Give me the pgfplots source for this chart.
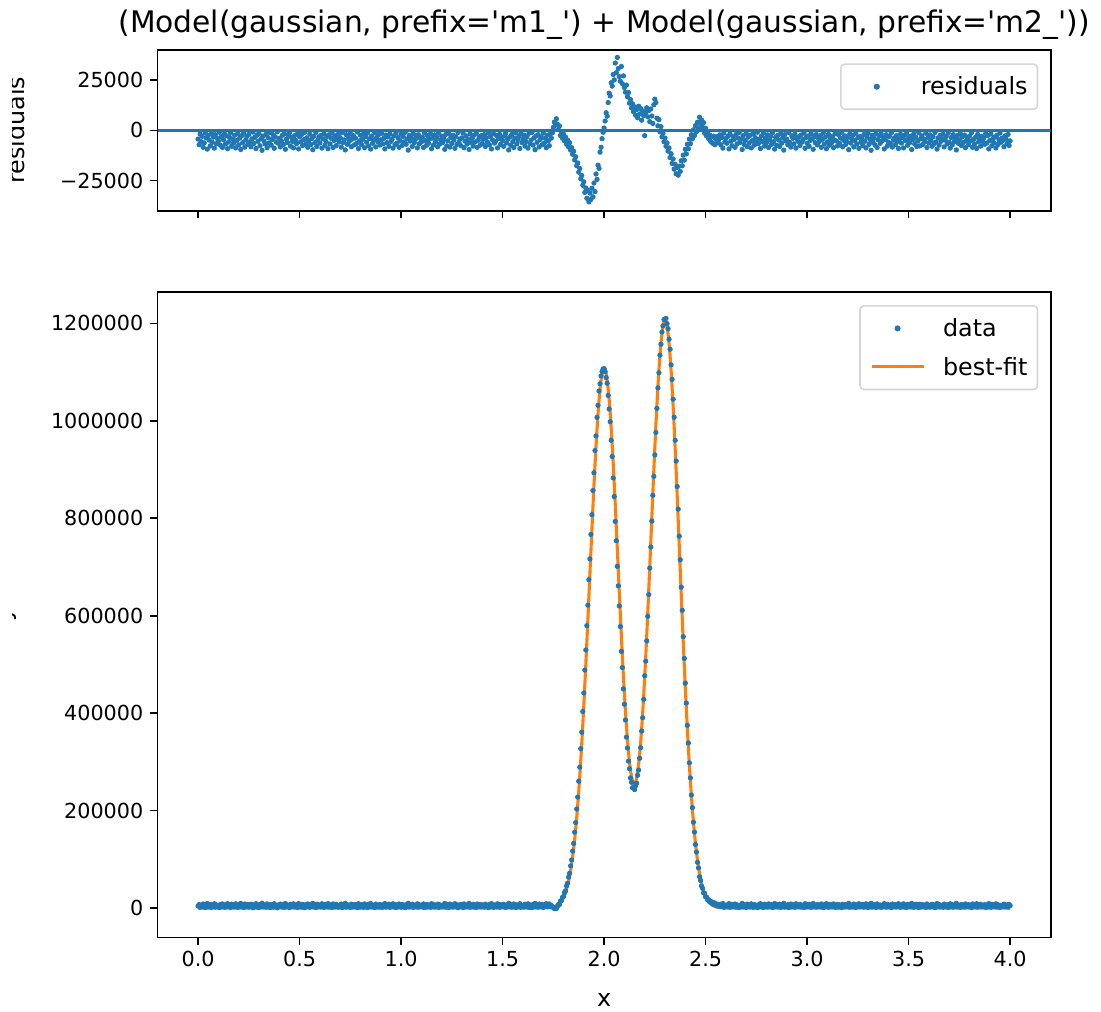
\documentclass[border=0pt]{standalone}
\usepackage{fontspec}
\setmainfont{DejaVu Sans}
\usepackage{pgfplots}
\pgfplotsset{compat=1.18}
\usepackage{pgfplotstable}
\definecolor{C0}{HTML}{1F77B4}
\definecolor{C1}{HTML}{FF7F0E}
\newcommand{\tickfont}{\fontsize{10.35}{12}\selectfont}
\newcommand{\labfont}{\fontsize{11.9}{14}\selectfont}
\newcommand{\titfont}{\fontsize{14.85}{18}\selectfont}

\pgfplotstableread{
x y r f
0.000 4300 -4300 0
0.005 7100 -7100 0
0.010 1800 -1800 0
0.015 5600 -5600 0
0.020 2900 -2900 0
0.025 8400 -8400 0
0.030 6200 -6200 0
0.035 1100 -1100 0
0.040 3700 -3700 0
0.045 9300 -9300 0
0.050 2500 -2500 0
0.055 4800 -4800 0
0.060 7700 -7700 0
0.065 1400 -1400 0
0.070 5900 -5900 0
0.075 3300 -3300 0
0.080 8800 -8800 0
0.085 2100 -2100 0
0.090 6600 -6600 0
0.095 4000 -4000 0
0.100 5200 -5200 0
0.105 900 -900 0
0.110 7400 -7400 0
0.115 3100 -3100 0
0.120 8500 -8500 0
0.125 4600 -4600 0
0.130 1700 -1700 0
0.135 6800 -6800 0
0.140 2700 -2700 0
0.145 9100 -9100 0
0.150 5800 -5800 0
0.155 3500 -3500 0
0.160 1200 -1200 0
0.165 7900 -7900 0
0.170 4400 -4400 0
0.175 6300 -6300 0
0.180 2400 -2400 0
0.185 8700 -8700 0
0.190 5000 -5000 0
0.195 1600 -1600 0
0.200 7200 -7200 0
0.205 3800 -3800 0
0.210 9500 -9500 0
0.215 2600 -2600 0
0.220 6100 -6100 0
0.225 1300 -1300 0
0.230 8300 -8300 0
0.235 4700 -4700 0
0.240 3000 -3000 0
0.245 6900 -6900 0
0.250 2000 -2000 0
0.255 5700 -5700 0
0.260 8100 -8100 0
0.265 4200 -4200 0
0.270 800 -800 0
0.275 6500 -6500 0
0.280 3400 -3400 0
0.285 9000 -9000 0
0.290 2300 -2300 0
0.295 5400 -5400 0
0.300 1500 -1500 0
0.305 7600 -7600 0
0.310 4100 -4100 0
0.315 9900 -9900 0
0.320 2800 -2800 0
0.325 5300 -5300 0
0.330 6700 -6700 0
0.335 1900 -1900 0
0.340 8600 -8600 0
0.345 3600 -3600 0
0.350 6200 -6200 0
0.355 1000 -1000 0
0.360 7300 -7300 0
0.365 4500 -4500 0
0.370 2200 -2200 0
0.375 8900 -8900 0
0.380 3200 -3200 0
0.385 5800 -5800 0
0.390 700 -700 0
0.395 6400 -6400 0
0.400 3900 -3900 0
0.405 8200 -8200 0
0.410 5100 -5100 0
0.415 2400 -2400 0
0.420 7000 -7000 0
0.425 1700 -1700 0
0.430 9400 -9400 0
0.435 4300 -4300 0
0.440 6000 -6000 0
0.445 2800 -2800 0
0.450 1200 -1200 0
0.455 7800 -7800 0
0.460 3500 -3500 0
0.465 5500 -5500 0
0.470 8700 -8700 0
0.475 2600 -2600 0
0.480 4900 -4900 0
0.485 6600 -6600 0
0.490 1400 -1400 0
0.495 9200 -9200 0
0.500 3100 -3100 0
0.505 5700 -5700 0
0.510 2000 -2000 0
0.515 7500 -7500 0
0.520 4600 -4600 0
0.525 900 -900 0
0.530 6800 -6800 0
0.535 3700 -3700 0
0.540 8400 -8400 0
0.545 5300 -5300 0
0.550 1800 -1800 0
0.555 7100 -7100 0
0.560 4000 -4000 0
0.565 9600 -9600 0
0.570 2900 -2900 0
0.575 6100 -6100 0
0.580 1100 -1100 0
0.585 8000 -8000 0
0.590 4800 -4800 0
0.595 3300 -3300 0
0.600 6300 -6300 0
0.605 2500 -2500 0
0.610 8800 -8800 0
0.615 4200 -4200 0
0.620 1600 -1600 0
0.625 7400 -7400 0
0.630 5500 -5500 0
0.635 3000 -3000 0
0.640 9100 -9100 0
0.645 2200 -2200 0
0.650 6700 -6700 0
0.655 3900 -3900 0
0.660 1300 -1300 0
0.665 8500 -8500 0
0.670 5000 -5000 0
0.675 2700 -2700 0
0.680 7600 -7600 0
0.685 4400 -4400 0
0.690 1900 -1900 0
0.695 5800 -5800 0
0.700 3600 -3600 0
0.705 8300 -8300 0
0.710 1000 -1000 0
0.715 6000 -6000 0
0.720 4700 -4700 0
0.725 9700 -9700 0
0.730 2100 -2100 0
0.735 6900 -6900 0
0.740 3400 -3400 0
0.745 5400 -5400 0
0.750 1500 -1500 0
0.755 8100 -8100 0
0.760 4300 -4300 0
0.765 2600 -2600 0
0.770 7200 -7200 0
0.775 3800 -3800 0
0.780 6500 -6500 0
0.785 800 -800 0
0.790 9000 -9000 0
0.795 5200 -5200 0
0.800 2400 -2400 0
0.805 7000 -7000 0
0.810 4500 -4500 0
0.815 1700 -1700 0
0.820 8600 -8600 0
0.825 3100 -3100 0
0.830 5900 -5900 0
0.835 1300 -1300 0
0.840 7700 -7700 0
0.845 4100 -4100 0
0.850 9300 -9300 0
0.855 2800 -2800 0
0.860 6400 -6400 0
0.865 4900 -4900 0
0.870 1100 -1100 0
0.875 8200 -8200 0
0.880 3500 -3500 0
0.885 5600 -5600 0
0.890 2000 -2000 0
0.895 7300 -7300 0
0.900 4700 -4700 0
0.905 1400 -1400 0
0.910 6700 -6700 0
0.915 3900 -3900 0
0.920 9200 -9200 0
0.925 2300 -2300 0
0.930 6100 -6100 0
0.935 3200 -3200 0
0.940 7900 -7900 0
0.945 1800 -1800 0
0.950 5500 -5500 0
0.955 4400 -4400 0
0.960 8800 -8800 0
0.965 2700 -2700 0
0.970 7100 -7100 0
0.975 1200 -1200 0
0.980 6300 -6300 0
0.985 3600 -3600 0
0.990 8400 -8400 0
0.995 5100 -5100 0
1.000 1900 -1900 0
1.005 7500 -7500 0
1.010 3000 -3000 0
1.015 5700 -5700 0
1.020 900 -900 0
1.025 6900 -6900 0
1.030 4200 -4200 0
1.035 9800 -9800 0
1.040 2500 -2500 0
1.045 5300 -5300 0
1.050 3700 -3700 0
1.055 8000 -8000 0
1.060 1600 -1600 0
1.065 6200 -6200 0
1.070 4500 -4500 0
1.075 2900 -2900 0
1.080 8700 -8700 0
1.085 2100 -2100 0
1.090 6600 -6600 0
1.095 4000 -4000 0
1.100 5800 -5800 0
1.105 3300 -3300 0
1.110 8500 -8500 0
1.115 1100 -1100 0
1.120 5000 -5000 0
1.125 7400 -7400 0
1.130 2600 -2600 0
1.135 6400 -6400 0
1.140 4300 -4300 0
1.145 1700 -1700 0
1.150 9100 -9100 0
1.155 3800 -3800 0
1.160 7200 -7200 0
1.165 2200 -2200 0
1.170 5600 -5600 0
1.175 3500 -3500 0
1.180 8100 -8100 0
1.185 1300 -1300 0
1.190 6800 -6800 0
1.195 4700 -4700 0
1.200 2800 -2800 0
1.205 6000 -6000 0
1.210 4100 -4100 0
1.215 9400 -9400 0
1.220 2000 -2000 0
1.225 7700 -7700 0
1.230 5200 -5200 0
1.235 1500 -1500 0
1.240 8300 -8300 0
1.245 3400 -3400 0
1.250 6500 -6500 0
1.255 2400 -2400 0
1.260 4800 -4800 0
1.265 8900 -8900 0
1.270 3100 -3100 0
1.275 7000 -7000 0
1.280 1000 -1000 0
1.285 5900 -5900 0
1.290 4300 -4300 0
1.295 7600 -7600 0
1.300 3700 -3700 0
1.305 1200 -1200 0
1.310 8600 -8600 0
1.315 5300 -5300 0
1.320 2700 -2700 0
1.325 6800 -6800 0
1.330 4500 -4500 0
1.335 9500 -9500 0
1.340 1800 -1800 0
1.345 6100 -6100 0
1.350 3900 -3900 0
1.355 7800 -7800 0
1.360 2300 -2300 0
1.365 5700 -5700 0
1.370 1400 -1400 0
1.375 8400 -8400 0
1.380 4900 -4900 0
1.385 3200 -3200 0
1.390 7300 -7300 0
1.395 2600 -2600 0
1.400 6500 -6500 0
1.405 4400 -4400 0
1.410 2100 -2100 0
1.415 8000 -8000 0
1.420 3600 -3600 0
1.425 5800 -5800 0
1.430 1100 -1100 0
1.435 7100 -7100 0
1.440 3000 -3000 0
1.445 9200 -9200 0
1.450 4700 -4700 0
1.455 1600 -1600 0
1.460 6300 -6300 0
1.465 5400 -5400 0
1.470 2500 -2500 0
1.475 8700 -8700 0
1.480 4000 -4000 0
1.485 1900 -1900 0
1.490 6900 -6900 0
1.495 3500 -3500 0
1.500 5000 -5000 0
1.505 7900 -7900 0
1.510 2700 -2700 0
1.515 1500 -1500 0
1.520 6200 -6200 0
1.525 4300 -4300 0
1.530 9700 -9700 0
1.535 3300 -3300 0
1.540 7400 -7400 0
1.545 2000 -2000 0
1.550 5600 -5600 0
1.555 8500 -8500 0
1.560 3800 -3800 0
1.565 1200 -1200 0
1.570 6700 -6700 0
1.575 4600 -4600 0
1.580 2900 -2900 0
1.585 9000 -9000 0
1.590 1700 -1700 0
1.595 6000 -6000 0
1.600 4200 -4200 0
1.605 2300 -2300 0
1.610 7800 -7800 0
1.615 5500 -5500 0
1.620 3100 -3100 0
1.625 8800 -8800 0
1.630 1400 -1400 0
1.635 6600 -6600 0
1.640 4900 -4900 0
1.645 1000 -1000 0
1.650 7300 -7300 0
1.655 3700 -3700 0
1.660 9600 -9600 0
1.665 2800 -2800 0
1.670 5900 -5900 0
1.675 2100 -2100 0
1.680 8200 -8200 0
1.685 4500 -4500 0
1.690 3400 -3400 0
1.695 7100 -7100 0
1.700 1470 -1300 170
1.705 6622 -6400 222
1.710 4190 -3900 290
1.715 8988 -8600 388
1.720 2910 -2400 510
1.725 5876 -5200 676
1.730 8480 -7600 880
1.735 2941 -1800 1141
1.740 5270 -3800 1470
1.745 3095 -1200 1895
1.750 930 1500 2430
1.755 -1109 4200 3091
1.760 1320 2600 3920
1.765 -858 5800 4942
1.770 3120 3100 6220
1.775 7356 400 7756
1.780 7450 2200 9650
1.785 14444 -2500 11944
1.790 15310 -600 14710
1.795 21927 -3900 18027
1.800 23780 -1800 21980
1.805 31881 -5200 26681
1.810 35520 -3300 32220
1.815 45614 -6900 38714
1.820 51100 -4800 46300
1.825 63290 -8200 55090
1.830 71350 -6100 65250
1.835 86684 -9800 76884
1.840 98760 -8600 90160
1.845 117060 -11900 105160
1.850 132560 -10400 122160
1.855 155837 -14700 141137
1.860 175420 -13100 162320
1.865 203312 -17600 185712
1.870 227680 -16200 211480
1.875 260427 -20800 239627
1.880 289160 -19000 270160
1.885 327260 -24100 303160
1.890 360980 -22500 338480
1.895 403411 -27300 376111
1.900 441440 -25600 415840
1.905 488438 -30900 457538
1.910 529680 -28700 500980
1.915 579612 -33800 545812
1.920 621680 -29900 591780
1.925 674096 -35600 638496
1.930 716670 -31200 685470
1.935 766755 -34400 732355
1.940 807380 -28800 778580
1.945 856832 -33100 823732
1.950 893430 -26200 867230
1.955 939060 -30500 908560
1.960 968900 -21700 947200
1.965 1007063 -24400 982663
1.970 1031760 -17300 1014460
1.975 1061074 -18900 1042174
1.980 1076200 -10800 1065400
1.985 1092235 -8400 1083835
1.990 1101300 -4100 1097200
1.995 1106305 -900 1105405
2.000 1106980 1200 1108180
2.005 1100826 4700 1105526
2.010 1088710 8800 1097510
2.015 1077157 7100 1084257
2.020 1052050 13900 1065950
2.025 1024309 18600 1042909
2.030 998210 17200 1015410
2.035 960104 23800 983904
2.040 926700 22100 948800
2.045 882721 27900 910621
2.050 844670 25200 869870
2.055 793494 33600 827094
2.060 754050 28800 782850
2.065 701329 36400 737729
2.070 661330 30900 692230
2.075 620131 26800 646931
2.080 577780 24500 602280
2.085 526902 31900 558802
2.090 493680 23300 516980
2.095 449943 27200 477143
2.100 418350 21400 439750
2.105 386027 19100 405127
2.110 350920 22600 373520
2.115 328463 16800 345263
2.120 301620 18900 320520
2.125 285940 13600 299540
2.130 267040 15400 282440
2.135 258127 11200 269327
2.140 247070 13300 260370
2.145 246204 9300 255504
2.150 243210 11800 255010
2.155 251053 7600 258653
2.160 256290 10400 266690
2.165 272554 6300 278854
2.170 283150 12100 295250
2.175 307495 8200 315695
2.180 329220 10900 340120
2.185 363314 5100 368414
2.190 390640 9700 400340
2.195 428318 7400 435718
2.200 476830 -2600 474230
2.205 506720 8900 515620
2.210 548250 11300 559550
2.215 598739 6800 605539
2.220 643340 9900 653240
2.225 697749 4400 702149
2.230 741010 10700 751710
2.235 794211 7200 801411
2.240 847160 3500 850660
2.245 886136 12800 898936
2.250 929980 15600 945580
2.255 976095 13900 989995
2.260 1025500 6100 1031600
2.265 1067531 2300 1069831
2.270 1098750 5400 1104150
2.275 1134787 -700 1134087
2.280 1157290 1900 1159190
2.285 1182307 -3200 1179107
2.290 1194940 -1400 1193540
2.295 1207870 -5600 1202270
2.300 1208970 -3800 1205170
2.305 1210070 -7900 1202170
2.310 1199450 -6200 1193250
2.315 1189019 -10300 1178719
2.320 1167380 -8700 1158680
2.325 1146911 -13500 1133411
2.330 1114870 -11600 1103270
2.335 1085090 -16400 1068690
2.340 1044330 -14200 1030130
2.345 1007400 -19300 988100
2.350 960050 -16900 943150
2.355 917445 -21600 895845
2.360 865140 -18400 846740
2.365 818769 -22300 796469
2.370 763290 -17800 745490
2.375 714793 -20400 694393
2.380 658690 -15100 643590
2.385 611195 -17600 593595
2.390 557140 -12300 544840
2.395 512393 -14800 497593
2.400 461650 -9400 452250
2.405 420737 -11700 409037
2.410 375020 -6900 368120
2.415 338800 -9100 329700
2.420 298120 -4300 293820
2.425 267205 -6600 260605
2.430 232100 -2100 230000
2.435 206170 -4200 201970
2.440 176230 300 176530
2.445 155993 -2500 153493
2.450 130450 2400 132850
2.455 114967 -600 114367
2.460 93950 4100 98050
2.465 82415 1200 83615
2.470 64360 6600 70960
2.475 56613 3300 59913
2.480 45160 5200 50360
2.485 40503 1600 42103
2.490 31140 3900 35040
2.495 30416 -1400 29016
2.500 22810 1100 23910
2.505 22405 -2800 19605
2.510 16600 -600 16000
2.515 17090 -4100 12990
2.520 12800 -2300 10500
2.525 13935 -5500 8435
2.530 9960 -3200 6760
2.535 11774 -6400 5374
2.540 7170 -2900 4270
2.545 10462 -7100 3362
2.550 7040 -4400 2640
2.555 5161 -3100 2061
2.560 7800 -6200 1600
2.565 5841 -4600 1241
2.570 3150 -2200 950
2.575 7835 -7100 735
2.580 4050 -3500 550
2.585 9222 -8800 422
2.590 1610 -1300 310
2.595 5941 -5700 241
2.600 4180 -4000 180
2.605 6400 -6400 0
2.610 2900 -2900 0
2.615 9200 -9200 0
2.620 1800 -1800 0
2.625 5300 -5300 0
2.630 7600 -7600 0
2.635 3100 -3100 0
2.640 4500 -4500 0
2.645 8400 -8400 0
2.650 2000 -2000 0
2.655 6700 -6700 0
2.660 3800 -3800 0
2.665 1100 -1100 0
2.670 5900 -5900 0
2.675 4200 -4200 0
2.680 9500 -9500 0
2.685 2600 -2600 0
2.690 7000 -7000 0
2.695 4900 -4900 0
2.700 1500 -1500 0
2.705 8100 -8100 0
2.710 3300 -3300 0
2.715 6200 -6200 0
2.720 2400 -2400 0
2.725 8700 -8700 0
2.730 5100 -5100 0
2.735 1700 -1700 0
2.740 7300 -7300 0
2.745 3600 -3600 0
2.750 5800 -5800 0
2.755 900 -900 0
2.760 6600 -6600 0
2.765 4300 -4300 0
2.770 9000 -9000 0
2.775 2800 -2800 0
2.780 5500 -5500 0
2.785 1400 -1400 0
2.790 7800 -7800 0
2.795 3900 -3900 0
2.800 6100 -6100 0
2.805 2200 -2200 0
2.810 8500 -8500 0
2.815 4700 -4700 0
2.820 3000 -3000 0
2.825 6900 -6900 0
2.830 1200 -1200 0
2.835 5600 -5600 0
2.840 9300 -9300 0
2.845 3400 -3400 0
2.850 7400 -7400 0
2.855 2500 -2500 0
2.860 4800 -4800 0
2.865 8000 -8000 0
2.870 1600 -1600 0
2.875 6300 -6300 0
2.880 3700 -3700 0
2.885 9800 -9800 0
2.890 2100 -2100 0
2.895 5200 -5200 0
2.900 4400 -4400 0
2.905 7100 -7100 0
2.910 1000 -1000 0
2.915 6000 -6000 0
2.920 8300 -8300 0
2.925 2700 -2700 0
2.930 3900 -3900 0
2.935 6700 -6700 0
2.940 1900 -1900 0
2.945 8800 -8800 0
2.950 4100 -4100 0
2.955 5400 -5400 0
2.960 3200 -3200 0
2.965 7500 -7500 0
2.970 2300 -2300 0
2.975 5800 -5800 0
2.980 4600 -4600 0
2.985 1300 -1300 0
2.990 8900 -8900 0
2.995 3500 -3500 0
3.000 6400 -6400 0
3.005 2800 -2800 0
3.010 7900 -7900 0
3.015 5000 -5000 0
3.020 1700 -1700 0
3.025 4200 -4200 0
3.030 9400 -9400 0
3.035 3100 -3100 0
3.040 6100 -6100 0
3.045 2000 -2000 0
3.050 7200 -7200 0
3.055 3700 -3700 0
3.060 5500 -5500 0
3.065 2600 -2600 0
3.070 8400 -8400 0
3.075 4500 -4500 0
3.080 1100 -1100 0
3.085 6800 -6800 0
3.090 3300 -3300 0
3.095 9100 -9100 0
3.100 5700 -5700 0
3.105 1900 -1900 0
3.110 7400 -7400 0
3.115 4000 -4000 0
3.120 6200 -6200 0
3.125 2900 -2900 0
3.130 8600 -8600 0
3.135 4800 -4800 0
3.140 1500 -1500 0
3.145 5300 -5300 0
3.150 7700 -7700 0
3.155 2200 -2200 0
3.160 6500 -6500 0
3.165 3800 -3800 0
3.170 900 -900 0
3.175 8100 -8100 0
3.180 4900 -4900 0
3.185 2700 -2700 0
3.190 7000 -7000 0
3.195 5600 -5600 0
3.200 3400 -3400 0
3.205 9600 -9600 0
3.210 1800 -1800 0
3.215 6300 -6300 0
3.220 4300 -4300 0
3.225 2500 -2500 0
3.230 8200 -8200 0
3.235 5100 -5100 0
3.240 1400 -1400 0
3.245 6700 -6700 0
3.250 3600 -3600 0
3.255 8900 -8900 0
3.260 3000 -3000 0
3.265 5900 -5900 0
3.270 4100 -4100 0
3.275 7600 -7600 0
3.280 2000 -2000 0
3.285 5400 -5400 0
3.290 8700 -8700 0
3.295 3200 -3200 0
3.300 1300 -1300 0
3.305 6900 -6900 0
3.310 4500 -4500 0
3.315 9900 -9900 0
3.320 2400 -2400 0
3.325 6000 -6000 0
3.330 3900 -3900 0
3.335 7300 -7300 0
3.340 1600 -1600 0
3.345 8500 -8500 0
3.350 4700 -4700 0
3.355 2800 -2800 0
3.360 6400 -6400 0
3.365 1700 -1700 0
3.370 5200 -5200 0
3.375 3400 -3400 0
3.380 9200 -9200 0
3.385 4400 -4400 0
3.390 2100 -2100 0
3.395 7800 -7800 0
3.400 5800 -5800 0
3.405 3000 -3000 0
3.410 6600 -6600 0
3.415 1200 -1200 0
3.420 8300 -8300 0
3.425 4800 -4800 0
3.430 3700 -3700 0
3.435 7100 -7100 0
3.440 2600 -2600 0
3.445 5500 -5500 0
3.450 9000 -9000 0
3.455 4200 -4200 0
3.460 1900 -1900 0
3.465 6300 -6300 0
3.470 3500 -3500 0
3.475 8700 -8700 0
3.480 2400 -2400 0
3.485 5000 -5000 0
3.490 1500 -1500 0
3.495 7400 -7400 0
3.500 3900 -3900 0
3.505 6100 -6100 0
3.510 2900 -2900 0
3.515 9500 -9500 0
3.520 4600 -4600 0
3.525 1800 -1800 0
3.530 6800 -6800 0
3.535 3300 -3300 0
3.540 8000 -8000 0
3.545 5300 -5300 0
3.550 1100 -1100 0
3.555 7700 -7700 0
3.560 4100 -4100 0
3.565 2700 -2700 0
3.570 7000 -7000 0
3.575 4300 -4300 0
3.580 5700 -5700 0
3.585 1400 -1400 0
3.590 8500 -8500 0
3.595 3600 -3600 0
3.600 6200 -6200 0
3.605 2200 -2200 0
3.610 4900 -4900 0
3.615 7900 -7900 0
3.620 3100 -3100 0
3.625 6600 -6600 0
3.630 1000 -1000 0
3.635 5800 -5800 0
3.640 9300 -9300 0
3.645 3800 -3800 0
3.650 7300 -7300 0
3.655 2500 -2500 0
3.660 5400 -5400 0
3.665 4400 -4400 0
3.670 1900 -1900 0
3.675 8200 -8200 0
3.680 4800 -4800 0
3.685 3000 -3000 0
3.690 6700 -6700 0
3.695 1300 -1300 0
3.700 5900 -5900 0
3.705 8800 -8800 0
3.710 3500 -3500 0
3.715 7200 -7200 0
3.720 2100 -2100 0
3.725 5600 -5600 0
3.730 4000 -4000 0
3.735 9700 -9700 0
3.740 2600 -2600 0
3.745 6400 -6400 0
3.750 4700 -4700 0
3.755 1600 -1600 0
3.760 7500 -7500 0
3.765 3200 -3200 0
3.770 6000 -6000 0
3.775 2300 -2300 0
3.780 8600 -8600 0
3.785 5100 -5100 0
3.790 3900 -3900 0
3.795 7100 -7100 0
3.800 2800 -2800 0
3.805 5300 -5300 0
3.810 1100 -1100 0
3.815 8400 -8400 0
3.820 4500 -4500 0
3.825 6800 -6800 0
3.830 3400 -3400 0
3.835 9000 -9000 0
3.840 2000 -2000 0
3.845 5700 -5700 0
3.850 4200 -4200 0
3.855 7800 -7800 0
3.860 2900 -2900 0
3.865 5500 -5500 0
3.870 3700 -3700 0
3.875 6900 -6900 0
3.880 1500 -1500 0
3.885 6300 -6300 0
3.890 2500 -2500 0
3.895 9200 -9200 0
3.900 5000 -5000 0
3.905 1800 -1800 0
3.910 7600 -7600 0
3.915 4100 -4100 0
3.920 6100 -6100 0
3.925 3300 -3300 0
3.930 8700 -8700 0
3.935 2400 -2400 0
3.940 7000 -7000 0
3.945 4600 -4600 0
3.950 1300 -1300 0
3.955 5900 -5900 0
3.960 3800 -3800 0
3.965 4900 -4900 0
3.970 8100 -8100 0
3.975 2700 -2700 0
3.980 4300 -4300 0
3.985 6600 -6600 0
3.990 2000 -2000 0
3.995 7500 -7500 0
4.000 5200 -5200 0
}\datatable

\pgfplotsset{
  refax/.style={
    scale only axis,
    width=446.6pt,
    xmin=-0.2, xmax=4.2,
    xtick={0,0.5,1,1.5,2,2.5,3,3.5,4},
    tick align=outside,
    tick pos=left,
    major tick length=3.6pt,
    axis line style={line width=0.8pt, black},
    tick style={line width=0.8pt, black},
    tick label style={font=\tickfont, text=black},
    label style={font=\labfont},
    scaled x ticks=false, scaled y ticks=false,
    /pgf/number format/assume math mode=true,
    legend cell align=left,
    legend style={at={(1,1)}, anchor=north east, xshift=-6.2pt, yshift=-6.65pt,
      draw=black!16, line width=0.8pt, rounded corners=2pt, fill=white,
      font=\labfont, inner xsep=5pt, inner ysep=4.4pt,
      nodes={inner sep=0pt, text height=11pt, text depth=2.8pt},
      column sep=9pt, row sep=5.45pt},
  },
  dotleg/.style={legend image code/.code={%
    \path[draw=none,fill=none] (0pt,0pt) (26pt,0pt);
    \fill[C0] (13pt,0pt) circle (1.1pt);}},
}

\begin{document}
\begin{tikzpicture}
\path[use as bounding box] (0pt,0pt) rectangle (550.5pt,-505.5pt);

\begin{axis}[refax, at={(78.75pt,-25pt)}, anchor=north west, height=80.35pt,
  ymin=-40000, ymax=40100, ytick={-25000,0,25000}, yticklabels={−25000,0,25000},
  xticklabels={,,,,,,,,},
  ylabel={residuals}, ylabel style={at={(axis description cs:-0.14834,0.5)}, anchor=base}]
\addplot[C0, line width=1.55pt, forget plot] coordinates {(-0.2,0) (4.2,0)};
\addplot[only marks, mark=*, mark size=1.1pt, color=C0, mark options={draw=none, fill=C0}, dotleg]
  table[x=x, y=r]{\datatable};
\addlegendentry{residuals}
\end{axis}

\begin{axis}[refax, at={(78.75pt,-145.85pt)}, anchor=north west, height=322.8pt,
  ymin=-60000, ymax=1265000, ytick={0,200000,400000,600000,800000,1000000,1200000},
  yticklabels={0,200000,400000,600000,800000,1000000,1200000},
  xticklabels={0.0,0.5,1.0,1.5,2.0,2.5,3.0,3.5,4.0},
  xlabel={x}, xlabel style={at={(axis description cs:0.5,0)}, anchor=base, yshift=-34.35pt},
  ylabel={y}, ylabel style={at={(axis description cs:-0.1629,0.5)}, anchor=base}]
\addplot[only marks, mark=*, mark size=1.1pt, color=C0, mark options={draw=none, fill=C0}, dotleg]
  table[x=x, y=y]{\datatable};
\addlegendentry{data}
\addplot[C1, line width=1.55pt,
  legend image code/.code={\draw[C1, line width=1.55pt] (0pt,0pt) -- (26pt,0pt);}]
  table[x=x, y=f]{\datatable};
\addlegendentry{best-fit}
\end{axis}

\node[anchor=base, font=\titfont, inner sep=0pt] at (302.05pt,-16.5pt)
  {(Model(gaussian, prefix=\textquotesingle m1\_\textquotesingle) + Model(gaussian, prefix=\textquotesingle m2\_\textquotesingle))};

\fill[white] (-1pt,1pt) rectangle (5.9pt,-507pt);
\end{tikzpicture}
\end{document}
